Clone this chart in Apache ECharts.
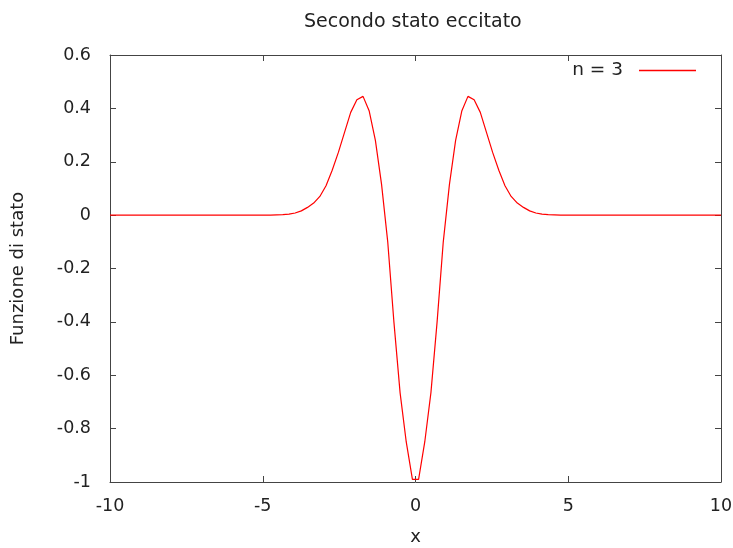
<!DOCTYPE html>
<html>
<head>
<meta charset="utf-8">
<script src="https://cdn.jsdelivr.net/npm/echarts@6/dist/echarts.min.js"></script>
<style>html,body{margin:0;padding:0;background:#fff}#c{width:733px;height:548px}</style>
</head>
<body>
<div id="c"></div>
<script>
const chartTitle = 'Secondo stato eccitato';
const xAxisName = 'x';
const yAxisName = 'Funzione di stato';
const seriesName = 'n = 3';
const xTicks = [-10, -5, 0, 5, 10];
const yTicks = [-1, -0.8, -0.6, -0.4, -0.2, 0, 0.2, 0.4, 0.6];
const xValues = [-10,
  -4.949, -4.747, -4.545, -4.343, -4.141, -3.939, -3.737, -3.535, -3.333, -3.131,
  -2.929, -2.727, -2.525, -2.323, -2.121, -1.919, -1.717, -1.515, -1.313, -1.111,
  -0.909, -0.707, -0.505, -0.303, -0.101,
  0.101, 0.303, 0.505, 0.707, 0.909, 1.111, 1.313, 1.515, 1.717, 1.919,
  2.121, 2.323, 2.525, 2.727, 2.929, 3.131, 3.333, 3.535, 3.737, 3.939,
  4.141, 4.343, 4.545, 4.747, 4.949,
  10];
const psiValues = [0,
  0, 0, 0.001, 0.002, 0.004, 0.008, 0.016, 0.029, 0.045, 0.07,
  0.11, 0.168, 0.235, 0.31, 0.385, 0.432, 0.445, 0.39, 0.28, 0.115,
  -0.1, -0.40, -0.665, -0.85, -0.99,
  -0.99, -0.85, -0.665, -0.40, -0.1, 0.115, 0.28, 0.39, 0.445, 0.432,
  0.385, 0.31, 0.235, 0.168, 0.11, 0.07, 0.045, 0.029, 0.016, 0.008,
  0.004, 0.002, 0.001, 0, 0,
  0];

const FONT = 'DejaVu Sans';
const TXT = '#222';
const AX = '#444';
const xMin = xTicks[0], xMax = xTicks[xTicks.length - 1], xInt = xTicks[1] - xTicks[0];
const yMin = yTicks[0], yMax = yTicks[yTicks.length - 1], yInt = 0.2;

const chart = echarts.init(document.getElementById('c'), null, {renderer: 'canvas'});
const baseAxisLine = {show: true, onZero: false, lineStyle: {color: AX, width: 1}};
const tick = {show: true, inside: true, length: 6, lineStyle: {color: AX, width: 1}};
chart.setOption({
  animation: false,
  backgroundColor: '#fff',
  title: {
    text: chartTitle, left: 299, top: 8,
    textStyle: {fontFamily: FONT, fontSize: 19, fontWeight: 'normal', color: TXT}
  },
  legend: {
    data: [seriesName], right: 32, top: 56, align: 'right',
    icon: 'rect', itemWidth: 57, itemHeight: 1.5,
    textStyle: {fontFamily: FONT, fontSize: 18.5, color: TXT, padding: [0, 11, 0, 0]}
  },
  grid: {left: 110, right: 12, top: 55, bottom: 66, containLabel: false, outerBoundsMode: 'none'},
  xAxis: [{
    type: 'value', min: xMin, max: xMax, interval: xInt,
    name: xAxisName, nameLocation: 'middle', nameGap: 46,
    nameTextStyle: {fontFamily: FONT, fontSize: 18, color: TXT},
    axisLine: baseAxisLine, axisTick: tick, splitLine: {show: false},
    axisLabel: {fontFamily: FONT, fontSize: 17.5, color: TXT, margin: 15}
  }, {
    type: 'value', position: 'top', min: xMin, max: xMax, interval: xInt,
    axisLine: baseAxisLine, axisTick: tick, splitLine: {show: false},
    axisLabel: {show: false}
  }],
  yAxis: [{
    type: 'value', min: yMin, max: yMax, interval: yInt,
    name: yAxisName, nameLocation: 'middle', nameGap: 83, nameRotate: 90,
    nameTextStyle: {fontFamily: FONT, fontSize: 18, color: TXT},
    axisLine: baseAxisLine, axisTick: tick, splitLine: {show: false},
    axisLabel: {fontFamily: FONT, fontSize: 17.5, color: TXT, margin: 19}
  }, {
    type: 'value', position: 'right', min: yMin, max: yMax, interval: yInt,
    axisLine: baseAxisLine, axisTick: tick, splitLine: {show: false},
    axisLabel: {show: false}
  }],
  series: [{
    name: seriesName, type: 'line', xAxisIndex: 0, yAxisIndex: 0,
    data: xValues.map((x, i) => [x, psiValues[i]]),
    showSymbol: false, symbol: 'none', smooth: false,
    lineStyle: {color: '#ff0000', width: 1.2},
    itemStyle: {color: '#ff0000'}
  }]
});
</script>
</body>
</html>
